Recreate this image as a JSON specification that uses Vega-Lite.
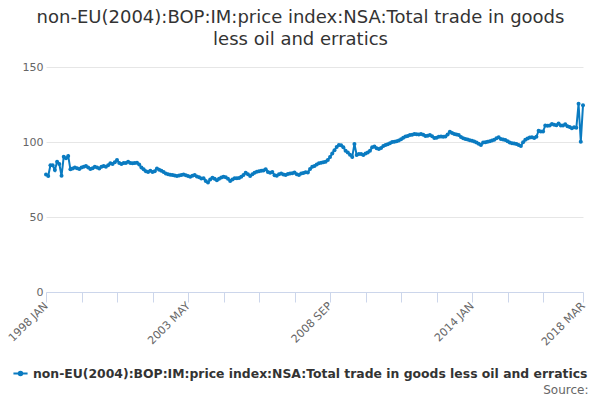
{
  "$schema": "https://vega.github.io/schema/vega-lite/v6.json",
  "width": 537,
  "height": 225,
  "autosize": {"type": "none"},
  "padding": {"left": 46, "top": 67, "right": 17, "bottom": 108},
  "background": "white",
  "config": {
    "font": "DejaVu Sans",
    "view": {"stroke": null}
  },
  "title": {
    "text": ["non-EU(2004):BOP:IM:price index:NSA:Total trade in goods", "less oil and erratics"],
    "fontSize": 18,
    "fontWeight": "normal",
    "color": "#333333",
    "anchor": "middle",
    "dx": -14,
    "offset": 12,
    "lineHeight": 22
  },
  "data": {
    "values": [
      {"month": "1998 JAN", "value": 78.4}, {"month": "1998 FEB", "value": 77.3}, {"month": "1998 MAR", "value": 84.5}, {"month": "1998 APR", "value": 84.5}, {"month": "1998 MAY", "value": 81.3}, {"month": "1998 JUN", "value": 86.9}, {"month": "1998 JUL", "value": 85.3}, {"month": "1998 AUG", "value": 77.5}, {"month": "1998 SEP", "value": 90.2}, {"month": "1998 OCT", "value": 89.1}, {"month": "1998 NOV", "value": 90.7}, {"month": "1998 DEC", "value": 81.8},
      {"month": "1999 JAN", "value": 82.4}, {"month": "1999 FEB", "value": 83}, {"month": "1999 MAR", "value": 82.5}, {"month": "1999 APR", "value": 82}, {"month": "1999 MAY", "value": 83}, {"month": "1999 JUN", "value": 83.5}, {"month": "1999 JUL", "value": 84}, {"month": "1999 AUG", "value": 83}, {"month": "1999 SEP", "value": 82}, {"month": "1999 OCT", "value": 82.5}, {"month": "1999 NOV", "value": 83.5}, {"month": "1999 DEC", "value": 83},
      {"month": "2000 JAN", "value": 82.4}, {"month": "2000 FEB", "value": 83.5}, {"month": "2000 MAR", "value": 84}, {"month": "2000 APR", "value": 83.5}, {"month": "2000 MAY", "value": 84.5}, {"month": "2000 JUN", "value": 85.8}, {"month": "2000 JUL", "value": 85.3}, {"month": "2000 AUG", "value": 86.5}, {"month": "2000 SEP", "value": 88}, {"month": "2000 OCT", "value": 86}, {"month": "2000 NOV", "value": 85.3}, {"month": "2000 DEC", "value": 86},
      {"month": "2001 JAN", "value": 86}, {"month": "2001 FEB", "value": 86.9}, {"month": "2001 MAR", "value": 86}, {"month": "2001 APR", "value": 85.8}, {"month": "2001 MAY", "value": 86}, {"month": "2001 JUN", "value": 86.2}, {"month": "2001 JUL", "value": 85}, {"month": "2001 AUG", "value": 83}, {"month": "2001 SEP", "value": 81.8}, {"month": "2001 OCT", "value": 80.5}, {"month": "2001 NOV", "value": 80}, {"month": "2001 DEC", "value": 80.9},
      {"month": "2002 JAN", "value": 80}, {"month": "2002 FEB", "value": 80.5}, {"month": "2002 MAR", "value": 82.4}, {"month": "2002 APR", "value": 81.5}, {"month": "2002 MAY", "value": 80.9}, {"month": "2002 JUN", "value": 80}, {"month": "2002 JUL", "value": 79}, {"month": "2002 AUG", "value": 78.5}, {"month": "2002 SEP", "value": 78.2}, {"month": "2002 OCT", "value": 78}, {"month": "2002 NOV", "value": 77.6}, {"month": "2002 DEC", "value": 77.3},
      {"month": "2003 JAN", "value": 77.6}, {"month": "2003 FEB", "value": 78}, {"month": "2003 MAR", "value": 78.4}, {"month": "2003 APR", "value": 77.8}, {"month": "2003 MAY", "value": 77.3}, {"month": "2003 JUN", "value": 76.9}, {"month": "2003 JUL", "value": 77.5}, {"month": "2003 AUG", "value": 78}, {"month": "2003 SEP", "value": 77}, {"month": "2003 OCT", "value": 76.5}, {"month": "2003 NOV", "value": 75.6}, {"month": "2003 DEC", "value": 75.8},
      {"month": "2004 JAN", "value": 74}, {"month": "2004 FEB", "value": 73}, {"month": "2004 MAR", "value": 75}, {"month": "2004 APR", "value": 76.2}, {"month": "2004 MAY", "value": 75.5}, {"month": "2004 JUN", "value": 74.5}, {"month": "2004 JUL", "value": 75.5}, {"month": "2004 AUG", "value": 76.4}, {"month": "2004 SEP", "value": 76.9}, {"month": "2004 OCT", "value": 76.5}, {"month": "2004 NOV", "value": 75.5}, {"month": "2004 DEC", "value": 74},
      {"month": "2005 JAN", "value": 75}, {"month": "2005 FEB", "value": 75.8}, {"month": "2005 MAR", "value": 75.8}, {"month": "2005 APR", "value": 76}, {"month": "2005 MAY", "value": 76.8}, {"month": "2005 JUN", "value": 78}, {"month": "2005 JUL", "value": 79.5}, {"month": "2005 AUG", "value": 78.5}, {"month": "2005 SEP", "value": 77.3}, {"month": "2005 OCT", "value": 78.5}, {"month": "2005 NOV", "value": 79.5}, {"month": "2005 DEC", "value": 80.2},
      {"month": "2006 JAN", "value": 80.5}, {"month": "2006 FEB", "value": 80.9}, {"month": "2006 MAR", "value": 81}, {"month": "2006 APR", "value": 81.8}, {"month": "2006 MAY", "value": 80}, {"month": "2006 JUN", "value": 79.5}, {"month": "2006 JUL", "value": 80}, {"month": "2006 AUG", "value": 77.8}, {"month": "2006 SEP", "value": 77.5}, {"month": "2006 OCT", "value": 78.5}, {"month": "2006 NOV", "value": 79}, {"month": "2006 DEC", "value": 78.3},
      {"month": "2007 JAN", "value": 78}, {"month": "2007 FEB", "value": 78.7}, {"month": "2007 MAR", "value": 79}, {"month": "2007 APR", "value": 79.1}, {"month": "2007 MAY", "value": 79.6}, {"month": "2007 JUN", "value": 78.5}, {"month": "2007 JUL", "value": 78}, {"month": "2007 AUG", "value": 79}, {"month": "2007 SEP", "value": 79.3}, {"month": "2007 OCT", "value": 79.8}, {"month": "2007 NOV", "value": 79.6}, {"month": "2007 DEC", "value": 82},
      {"month": "2008 JAN", "value": 83.5}, {"month": "2008 FEB", "value": 84}, {"month": "2008 MAR", "value": 85}, {"month": "2008 APR", "value": 85.8}, {"month": "2008 MAY", "value": 86.2}, {"month": "2008 JUN", "value": 86.5}, {"month": "2008 JUL", "value": 86.9}, {"month": "2008 AUG", "value": 88}, {"month": "2008 SEP", "value": 90}, {"month": "2008 OCT", "value": 92.4}, {"month": "2008 NOV", "value": 94.5}, {"month": "2008 DEC", "value": 96.6},
      {"month": "2009 JAN", "value": 98}, {"month": "2009 FEB", "value": 97.8}, {"month": "2009 MAR", "value": 96.5}, {"month": "2009 APR", "value": 94.2}, {"month": "2009 MAY", "value": 93}, {"month": "2009 JUN", "value": 91.5}, {"month": "2009 JUL", "value": 90}, {"month": "2009 AUG", "value": 98.7}, {"month": "2009 SEP", "value": 91.3}, {"month": "2009 OCT", "value": 92}, {"month": "2009 NOV", "value": 92}, {"month": "2009 DEC", "value": 91.3},
      {"month": "2010 JAN", "value": 92.4}, {"month": "2010 FEB", "value": 93}, {"month": "2010 MAR", "value": 94.2}, {"month": "2010 APR", "value": 96.5}, {"month": "2010 MAY", "value": 97}, {"month": "2010 JUN", "value": 95.8}, {"month": "2010 JUL", "value": 95.3}, {"month": "2010 AUG", "value": 96}, {"month": "2010 SEP", "value": 97.3}, {"month": "2010 OCT", "value": 98}, {"month": "2010 NOV", "value": 98.5}, {"month": "2010 DEC", "value": 99.2},
      {"month": "2011 JAN", "value": 100}, {"month": "2011 FEB", "value": 100.2}, {"month": "2011 MAR", "value": 100.5}, {"month": "2011 APR", "value": 101}, {"month": "2011 MAY", "value": 101.8}, {"month": "2011 JUN", "value": 102.8}, {"month": "2011 JUL", "value": 103.6}, {"month": "2011 AUG", "value": 104}, {"month": "2011 SEP", "value": 104.7}, {"month": "2011 OCT", "value": 104.9}, {"month": "2011 NOV", "value": 105.3}, {"month": "2011 DEC", "value": 105.2},
      {"month": "2012 JAN", "value": 105}, {"month": "2012 FEB", "value": 105.3}, {"month": "2012 MAR", "value": 104.8}, {"month": "2012 APR", "value": 104}, {"month": "2012 MAY", "value": 104.2}, {"month": "2012 JUN", "value": 104.7}, {"month": "2012 JUL", "value": 103.8}, {"month": "2012 AUG", "value": 102.6}, {"month": "2012 SEP", "value": 102.8}, {"month": "2012 OCT", "value": 103.5}, {"month": "2012 NOV", "value": 103.6}, {"month": "2012 DEC", "value": 103.5},
      {"month": "2013 JAN", "value": 103.6}, {"month": "2013 FEB", "value": 105}, {"month": "2013 MAR", "value": 106.9}, {"month": "2013 APR", "value": 106}, {"month": "2013 MAY", "value": 105.3}, {"month": "2013 JUN", "value": 105}, {"month": "2013 JUL", "value": 104.7}, {"month": "2013 AUG", "value": 103.3}, {"month": "2013 SEP", "value": 102.5}, {"month": "2013 OCT", "value": 102}, {"month": "2013 NOV", "value": 101.6}, {"month": "2013 DEC", "value": 101.2},
      {"month": "2014 JAN", "value": 100.8}, {"month": "2014 FEB", "value": 100.3}, {"month": "2014 MAR", "value": 99.6}, {"month": "2014 APR", "value": 98.8}, {"month": "2014 MAY", "value": 98}, {"month": "2014 JUN", "value": 99.6}, {"month": "2014 JUL", "value": 99.8}, {"month": "2014 AUG", "value": 100.2}, {"month": "2014 SEP", "value": 100.5}, {"month": "2014 OCT", "value": 101}, {"month": "2014 NOV", "value": 101.5}, {"month": "2014 DEC", "value": 102.5},
      {"month": "2015 JAN", "value": 103.2}, {"month": "2015 FEB", "value": 102}, {"month": "2015 MAR", "value": 101.6}, {"month": "2015 APR", "value": 101.3}, {"month": "2015 MAY", "value": 100.5}, {"month": "2015 JUN", "value": 99.7}, {"month": "2015 JUL", "value": 99.1}, {"month": "2015 AUG", "value": 99}, {"month": "2015 SEP", "value": 98.7}, {"month": "2015 OCT", "value": 98}, {"month": "2015 NOV", "value": 97.3}, {"month": "2015 DEC", "value": 99.8},
      {"month": "2016 JAN", "value": 101.5}, {"month": "2016 FEB", "value": 102.4}, {"month": "2016 MAR", "value": 103}, {"month": "2016 APR", "value": 103.1}, {"month": "2016 MAY", "value": 102.6}, {"month": "2016 JUN", "value": 103.5}, {"month": "2016 JUL", "value": 107.5}, {"month": "2016 AUG", "value": 107}, {"month": "2016 SEP", "value": 107}, {"month": "2016 OCT", "value": 111}, {"month": "2016 NOV", "value": 110.8}, {"month": "2016 DEC", "value": 111},
      {"month": "2017 JAN", "value": 112}, {"month": "2017 FEB", "value": 111.5}, {"month": "2017 MAR", "value": 111.2}, {"month": "2017 APR", "value": 112.4}, {"month": "2017 MAY", "value": 111}, {"month": "2017 JUN", "value": 111}, {"month": "2017 JUL", "value": 111.8}, {"month": "2017 AUG", "value": 110.5}, {"month": "2017 SEP", "value": 110}, {"month": "2017 OCT", "value": 109.2}, {"month": "2017 NOV", "value": 109.8}, {"month": "2017 DEC", "value": 109.5},
      {"month": "2018 JAN", "value": 125.5}, {"month": "2018 FEB", "value": 100.2}, {"month": "2018 MAR", "value": 124.5}
    ]
  },
  "mark": {
    "type": "line",
    "strokeWidth": 2,
    "point": {"filled": true, "size": 16}
  },
  "encoding": {
    "x": {
      "field": "month",
      "type": "ordinal",
      "sort": null,
      "scale": {"type": "point", "padding": 0},
      "axis": {
        "title": "Source:",
        "titleFontSize": 12,
        "titleFontWeight": "normal",
        "titleColor": "#666666",
        "titleAnchor": "end",
        "titleAlign": "right",
        "titleBaseline": "alphabetic",
        "titleX": 542,
        "titleY": 101,
        "values": ["1998 JAN", "1999 MAY", "2000 SEP", "2002 JAN", "2003 MAY", "2004 SEP", "2006 JAN", "2007 MAY", "2008 SEP", "2010 JAN", "2011 MAY", "2012 SEP", "2014 JAN", "2015 MAY", "2016 SEP", "2018 MAR"],
        "labelExpr": "indexof(['1998 JAN','2003 MAY','2008 SEP','2014 JAN','2018 MAR'], datum.value) >= 0 ? datum.value : ''",
        "labelAngle": -45,
        "labelAlign": "right",
        "labelBaseline": "middle",
        "labelFontSize": 11,
        "labelColor": "#666666",
        "labelPadding": 2,
        "labelOverlap": false,
        "domainColor": "#ccd6eb",
        "tickColor": "#ccd6eb",
        "tickSize": 10,
        "grid": false
      }
    },
    "y": {
      "field": "value",
      "type": "quantitative",
      "scale": {"domain": [0, 150], "nice": false},
      "axis": {
        "title": null,
        "values": [0, 50, 100, 150],
        "domain": false,
        "ticks": false,
        "labelFontSize": 11,
        "labelColor": "#666666",
        "labelPadding": 3,
        "gridColor": "#e6e6e6"
      }
    },
    "color": {
      "datum": "non-EU(2004):BOP:IM:price index:NSA:Total trade in goods less oil and erratics",
      "type": "nominal",
      "scale": {"range": ["#0a7bc1"]},
      "legend": {
        "title": null,
        "orient": "none",
        "legendX": -34,
        "legendY": 298,
        "symbolType": "M-1,0L1,0M-0.25,0A0.25,0.25 0 1 1 0.25,0A0.25,0.25 0 1 1 -0.25,0",
        "symbolSize": 200,
        "symbolStrokeWidth": 2,
        "labelFontSize": 12.4,
        "labelFontWeight": "bold",
        "labelColor": "#333333",
        "labelLimit": 600
      }
    }
  }
}
